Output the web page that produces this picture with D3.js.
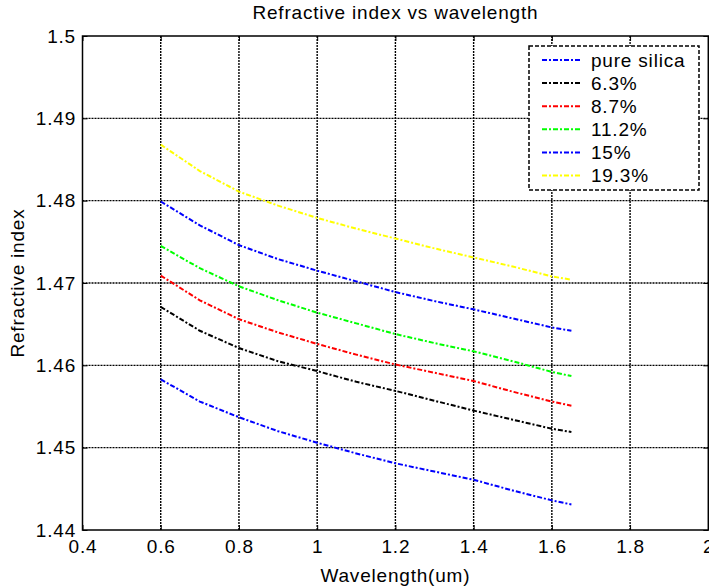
<!DOCTYPE html>
<html>
<head>
<meta charset="utf-8">
<script src="https://cdn.jsdelivr.net/npm/d3@7"></script>
<style>
  body { margin: 0; background: #fff; }
  svg { display: block; font-family: "Liberation Sans", Arial, sans-serif; }
</style>
</head>
<body>
<svg id="chart" width="709" height="587"></svg>
<script>
// DATA
const wavelength = [0.6, 0.7, 0.8, 0.9, 1.0, 1.1, 1.2, 1.3, 1.4, 1.5, 1.6, 1.65];
const pureSilica = [1.4583, 1.4556, 1.4537, 1.4520, 1.4506, 1.4493, 1.4481, 1.4471, 1.4461, 1.4448, 1.4436, 1.4431];
const ge63  = [1.4671, 1.4642, 1.4621, 1.4605, 1.4593, 1.4580, 1.4569, 1.4557, 1.4545, 1.4534, 1.4523, 1.4519];
const ge87  = [1.4709, 1.4679, 1.4656, 1.4640, 1.4626, 1.4613, 1.4601, 1.4591, 1.4581, 1.4568, 1.4556, 1.4551];
const ge112 = [1.4745, 1.4718, 1.4696, 1.4679, 1.4664, 1.4651, 1.4638, 1.4627, 1.4617, 1.4605, 1.4592, 1.4587];
const ge15  = [1.4799, 1.4770, 1.4746, 1.4729, 1.4715, 1.4702, 1.4689, 1.4678, 1.4668, 1.4657, 1.4646, 1.4642];
const ge193 = [1.4868, 1.4836, 1.4811, 1.4794, 1.4779, 1.4766, 1.4754, 1.4742, 1.4731, 1.4720, 1.4708, 1.4704];
const seriesNames = ["pure silica", "6.3%", "8.7%", "11.2%", "15%", "19.3%"];
const seriesColors = ["#0000ff", "#000000", "#ff0000", "#00ff00", "#0000ff", "#ffff00"];
const xTicks = [0.4, 0.6, 0.8, 1, 1.2, 1.4, 1.6, 1.8, 2];
const yTicks = [1.44, 1.45, 1.46, 1.47, 1.48, 1.49, 1.5];

const series = [pureSilica, ge63, ge87, ge112, ge15, ge193];

const svg = d3.select("#chart");
const margin = { left: 82.5, right: 708.3, top: 36, bottom: 530 };
const fs = 19, ls = 0.8;

const x = d3.scaleLinear().domain([0.4, 2]).range([margin.left, margin.right]);
const y = d3.scaleLinear().domain([1.44, 1.5]).range([margin.bottom, margin.top]);

// grid, dotted like matlab
const grid = svg.append("g")
  .attr("stroke", "#000")
  .attr("stroke-width", 1.4)
  .attr("stroke-dasharray", "2,1");
grid.selectAll(".gx").data(xTicks.slice(1, -1)).join("line")
  .attr("x1", d => x(d)).attr("x2", d => x(d))
  .attr("y1", margin.top).attr("y2", margin.bottom);
grid.selectAll(".gy").data(yTicks.slice(1, -1)).join("line")
  .attr("y1", d => y(d)).attr("y2", d => y(d))
  .attr("x1", margin.left).attr("x2", margin.right);

// axes (ticks inside)
const tk = 5;
svg.append("g")
  .attr("transform", `translate(0,${margin.bottom})`)
  .call(d3.axisBottom(x).tickValues(xTicks).tickSize(-tk).tickPadding(10).tickFormat(d3.format("")))
  .call(g => g.select(".domain").remove());
svg.append("g")
  .attr("transform", `translate(0,${margin.top})`)
  .call(d3.axisTop(x).tickValues(xTicks).tickSize(-tk).tickFormat(""))
  .call(g => g.select(".domain").remove());
svg.append("g")
  .attr("transform", `translate(${margin.left},0)`)
  .call(d3.axisLeft(y).tickValues(yTicks).tickSize(-tk).tickPadding(6.5).tickFormat(d3.format("")))
  .call(g => g.select(".domain").remove());
svg.append("g")
  .attr("transform", `translate(${margin.right},0)`)
  .call(d3.axisRight(y).tickValues(yTicks).tickSize(-tk).tickFormat(""))
  .call(g => g.select(".domain").remove());

svg.selectAll(".tick text").attr("font-size", fs).attr("letter-spacing", ls).attr("fill", "#000")
  .attr("font-family", "Liberation Sans, Arial, sans-serif");
svg.selectAll(".tick line").attr("stroke", "#000");

// box
svg.append("rect")
  .attr("x", margin.left).attr("y", margin.top)
  .attr("width", margin.right - margin.left).attr("height", margin.bottom - margin.top)
  .attr("fill", "none").attr("stroke", "#000").attr("stroke-width", 1.5);

// curves
const line = d3.line().x((d, i) => x(wavelength[i])).y(d => y(d));
svg.append("g").selectAll("path").data(series).join("path")
  .attr("d", d => line(d))
  .attr("fill", "none")
  .attr("stroke", (d, i) => seriesColors[i])
  .attr("stroke-width", 2)
  .attr("stroke-dasharray", "5,2,2,2");

// titles
svg.append("text").attr("x", (margin.left + margin.right) / 2).attr("y", 19)
  .attr("text-anchor", "middle").attr("font-size", fs).attr("letter-spacing", ls)
  .text("Refractive index vs wavelength");
svg.append("text").attr("x", (margin.left + margin.right) / 2).attr("y", 582)
  .attr("text-anchor", "middle").attr("font-size", fs).attr("letter-spacing", ls)
  .text("Wavelength(um)");
svg.append("text")
  .attr("transform", `translate(24,${(margin.top + margin.bottom) / 2}) rotate(-90)`)
  .attr("text-anchor", "middle").attr("font-size", fs).attr("letter-spacing", ls)
  .text("Refractive index");

// legend
const lg = svg.append("g");
lg.append("rect").attr("x", 529).attr("y", 46).attr("width", 170).attr("height", 144)
  .attr("fill", "#fff").attr("stroke", "#000").attr("stroke-width", 1.5)
  .attr("stroke-dasharray", "4,2");
const rows = lg.selectAll(".row").data(seriesNames).join("g")
  .attr("transform", (d, i) => `translate(0,${60 + i * 23.1})`);
rows.append("line").attr("x1", 542).attr("x2", 580)
  .attr("stroke", (d, i) => seriesColors[i]).attr("stroke-width", 2)
  .attr("stroke-dasharray", "5,2,2,2");
rows.append("text").attr("x", 591).attr("y", 6.5).attr("font-size", fs).attr("letter-spacing", ls)
  .text(d => d);
</script>
</body>
</html>
